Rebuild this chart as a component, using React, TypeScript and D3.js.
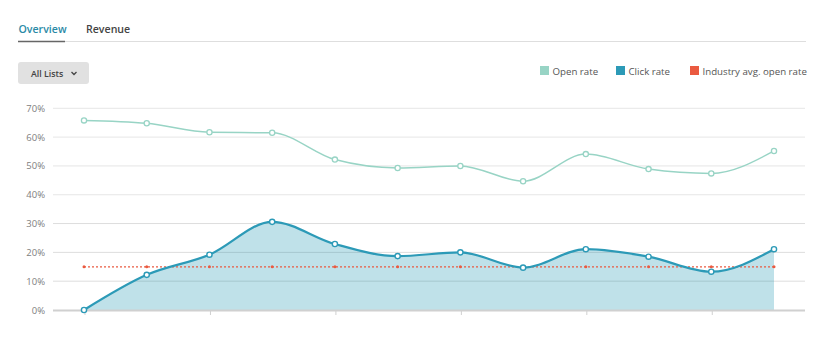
import React from "react";
import * as d3 from "d3";

const categories = ["1", "2", "3", "4", "5", "6", "7", "8", "9", "10", "11", "12"];
const openRate = [65.8, 64.8, 61.7, 61.5, 52.2, 49.3, 50.0, 44.7, 54.1, 48.9, 47.4, 55.2];
const clickRate = [0, 12.2, 19.2, 30.6, 22.9, 18.7, 20.0, 14.7, 21.1, 18.5, 13.3, 21.1];
const industryAvg = [15, 15, 15, 15, 15, 15, 15, 15, 15, 15, 15, 15];
const yTicks = [0, 10, 20, 30, 40, 50, 60, 70];
const legendItems = [
  { label: "Open rate", color: "#98d4c5" },
  { label: "Click rate", color: "#2c9ab7" },
  { label: "Industry avg. open rate", color: "#ea5a40" },
];

const W = 824;
const H = 356;
const FONT = "'Open Sans', sans-serif";

export default function App() {
  const x = d3.scalePoint<string>().domain(categories).range([84, 774]);
  const y = d3.scaleLinear().domain([0, 70]).range([310, 108.3]);
  const curve = d3.curveMonotoneX;

  const openLine = d3
    .line<number>()
    .x((_, i) => x(categories[i])!)
    .y((d) => y(d))
    .curve(curve);
  const clickArea = d3
    .area<number>()
    .x((_, i) => x(categories[i])!)
    .y0(y(0))
    .y1((d) => y(d))
    .curve(curve);
  const avgLine = d3
    .line<number>()
    .x((_, i) => x(categories[i])!)
    .y((d) => y(d));

  const legendX = [540, 616, 690];

  return (
    <div style={{ margin: -8 }}>
      <svg width={W} height={H} style={{ display: "block", fontFamily: FONT }}>
        <rect width={W} height={H} fill="#fff" />
        {/* tabs */}
        <text x={18.5} y={33} fontSize={10.6} fill="#2a8aa6" fontWeight={600}>
          Overview
        </text>
        <text x={86} y={33} fontSize={10.6} fill="#444" fontWeight={600}>
          Revenue
        </text>
        <line x1={18} x2={806} y1={41.5} y2={41.5} stroke="#dedede" />
        <line x1={18} x2={65} y1={41.5} y2={41.5} stroke="#666" strokeWidth={1.5} />
        {/* button */}
        <rect x={18} y={62} width={71} height={22} rx={3} fill="#e1e1e1" />
        <text x={31} y={76.5} fontSize={8.8} fill="#444" fontWeight={600}>
          All Lists
        </text>
        <path d="M71.5,72 l2.5,2.5 l2.5,-2.5" fill="none" stroke="#444" strokeWidth={1.3} />
        {/* legend */}
        {legendItems.map((it, i) => (
          <g key={it.label}>
            <rect x={legendX[i]} y={66} width={9} height={9} fill={it.color} />
            <text x={legendX[i] + 12.5} y={74.5} fontSize={9.7} fill="#555">
              {it.label}
            </text>
          </g>
        ))}
        {/* grid */}
        {yTicks.map((t) => (
          <g key={t}>
            {t > 0 && (
              <line x1={53} x2={805} y1={y(t)} y2={y(t)} stroke="#e6e6e6" strokeWidth={1} />
            )}
            <text x={45} y={y(t) + 3.5} fontSize={9.5} fill="#808080" textAnchor="end">
              {t}%
            </text>
          </g>
        ))}
        {/* click area */}
        <path d={clickArea(clickRate)!} fill="#2c9ab7" fillOpacity={0.3} />
        {yTicks
          .filter((t) => t > 0 && t <= 30)
          .map((t) => (
            <line key={"g" + t} x1={53} x2={805} y1={y(t)} y2={y(t)} stroke="#000" strokeOpacity={0.04} />
          ))}
        {/* axis */}
        <line x1={53} x2={805} y1={310.5} y2={310.5} stroke="#d0d0d0" strokeWidth={2} />
        {categories.map((c, i) =>
          i % 2 === 0 ? (
            <line key={c} x1={x(c)! + 1} x2={x(c)! + 1} y1={311} y2={315} stroke="#d0d0d0" />
          ) : null
        )}
        {/* industry avg */}
        <path d={avgLine(industryAvg)!} fill="none" stroke="#ea5a40" strokeWidth={1.3} strokeDasharray="2,2" />
        {industryAvg.map((v, i) => (
          <circle key={"a" + i} cx={x(categories[i])} cy={y(v)} r={1.5} fill="#ea5a40" />
        ))}
        {/* open rate */}
        <path d={openLine(openRate)!} fill="none" stroke="#98d4c5" strokeWidth={1.5} />
        {openRate.map((v, i) => (
          <circle key={"o" + i} cx={x(categories[i])} cy={y(v)} r={2.6} fill="#fff" stroke="#98d4c5" strokeWidth={1.3} />
        ))}
        {/* click rate */}
        <path d={openLine(clickRate)!} fill="none" stroke="#2c9ab7" strokeWidth={2.2} />
        {clickRate.map((v, i) => (
          <circle key={"c" + i} cx={x(categories[i])} cy={y(v)} r={2.6} fill="#fff" stroke="#2c9ab7" strokeWidth={1.4} />
        ))}
      </svg>
    </div>
  );
}
